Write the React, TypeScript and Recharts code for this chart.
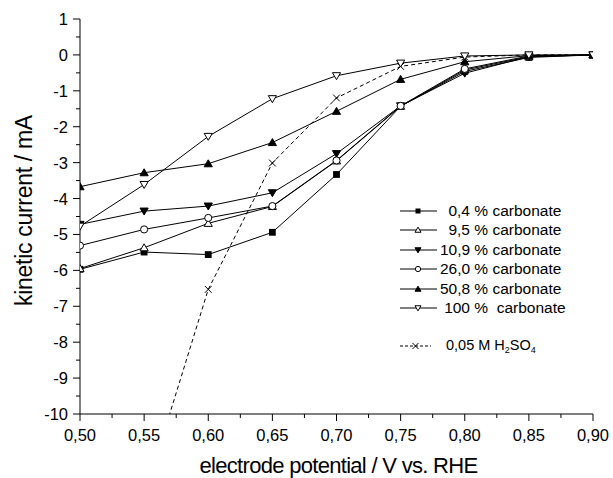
import { LineChart, Line, XAxis, YAxis, Legend, Label } from "recharts";

const FONT = "'Liberation Sans', Arial, sans-serif";

// electrode potential (V vs. RHE)
const POTENTIAL = [0.5, 0.55, 0.6, 0.65, 0.7, 0.75, 0.8, 0.85, 0.9];

// kinetic current (mA) per electrolyte
const CARB_04 = [-5.97, -5.49, -5.56, -4.94, -3.33, -1.43, -0.46, -0.07, 0];
const CARB_95 = [-5.95, -5.37, -4.69, -4.22, -2.95, -1.43, -0.42, -0.05, 0];
const CARB_109 = [-4.72, -4.35, -4.21, -3.84, -2.75, -1.42, -0.51, -0.05, 0];
const CARB_260 = [-5.31, -4.86, -4.54, -4.21, -2.94, -1.42, -0.39, -0.03, 0];
const CARB_508 = [-3.67, -3.28, -3.03, -2.44, -1.57, -0.68, -0.19, -0.02, 0];
const CARB_100 = [-4.77, -3.61, -2.27, -1.22, -0.58, -0.23, -0.03, 0, 0];
const H2SO4 = [null, -12.3, -6.53, -3.01, -1.2, -0.32, -0.06, 0, 0];

// major ticks get a label, the in-between ones are minor
const X_TICKS = [0.5, 0.525, 0.55, 0.575, 0.6, 0.625, 0.65, 0.675, 0.7, 0.725, 0.75, 0.775, 0.8, 0.825, 0.85, 0.875, 0.9];
const Y_TICKS = [-10, -9.5, -9, -8.5, -8, -7.5, -7, -6.5, -6, -5.5, -5, -4.5, -4, -3.5, -3, -2.5, -2, -1.5, -1, -0.5, 0, 0.5, 1];

const SERIES = [
  { key: "c04", num: "0,4", rest: " % carbonate", marker: "square", values: CARB_04 },
  { key: "c95", num: "9,5", rest: " % carbonate", marker: "triUpOpen", values: CARB_95 },
  { key: "c109", num: "10,9", rest: " % carbonate", marker: "triDown", values: CARB_109 },
  { key: "c260", num: "26,0", rest: " % carbonate", marker: "circleOpen", values: CARB_260 },
  { key: "c508", num: "50,8", rest: " % carbonate", marker: "triUp", values: CARB_508 },
  { key: "c100", num: "100", rest: " %  carbonate", marker: "triDownOpen", values: CARB_100 },
];

const data = POTENTIAL.map((x, i) => {
  const row: Record<string, number | null> = { x, h2so4: H2SO4[i] };
  SERIES.forEach((s) => {
    row[s.key] = s.values[i];
  });
  return row;
});

function Marker({ kind, cx, cy, s }: { kind: string; cx: number; cy: number; s: number }) {
  switch (kind) {
    case "square":
      return <rect x={cx - s} y={cy - s} width={2 * s} height={2 * s} fill="#000" />;
    case "triUp":
    case "triUpOpen":
      return (
        <polygon
          points={`${cx},${cy - s * 1.15} ${cx + s * 1.2},${cy + s * 0.9} ${cx - s * 1.2},${cy + s * 0.9}`}
          fill={kind === "triUp" ? "#000" : "#fff"}
          stroke="#000"
          strokeWidth={1}
        />
      );
    case "triDown":
    case "triDownOpen":
      return (
        <polygon
          points={`${cx},${cy + s * 1.15} ${cx + s * 1.2},${cy - s * 0.9} ${cx - s * 1.2},${cy - s * 0.9}`}
          fill={kind === "triDown" ? "#000" : "#fff"}
          stroke="#000"
          strokeWidth={1}
        />
      );
    case "circleOpen":
      return <circle cx={cx} cy={cy} r={s * 1.05} fill="#fff" stroke="#000" strokeWidth={1} />;
    case "cross":
      return (
        <path
          d={`M${cx - s},${cy - s}L${cx + s},${cy + s}M${cx - s},${cy + s}L${cx + s},${cy - s}`}
          stroke="#000"
          strokeWidth={1}
        />
      );
    default:
      return null;
  }
}

const renderDot = (kind: string) => (props: any) => {
  const { cx, cy, index, value } = props;
  if (cx == null || cy == null || value == null || Number.isNaN(cy)) return <g key={`${kind}-${index}`} />;
  return (
    <g key={`${kind}-${index}`}>
      <Marker kind={kind} cx={cx} cy={cy} s={3.4} />
    </g>
  );
};

const isMajor = (v: number, step: number) => Math.abs(v / step - Math.round(v / step)) < 1e-6;

// x tick: line drawn down from the axis, label only on the 0.05 steps
const XTick = (props: any) => {
  const { x, y, payload } = props;
  const major = isMajor(payload.value, 0.05);
  return (
    <g>
      <line x1={x} y1={y} x2={x} y2={y + (major ? 7 : 4)} stroke="#000" strokeWidth={1} />
      {major && (
        <text x={x} y={y + 27} textAnchor="middle" fontSize={16.5} fill="#000">
          {payload.value.toFixed(2).replace(".", ",")}
        </text>
      )}
    </g>
  );
};

const YTick = (props: any) => {
  const { x, y, payload } = props;
  const major = isMajor(payload.value, 1);
  return (
    <g>
      <line x1={x - (major ? 7 : 4)} y1={y} x2={x} y2={y} stroke="#000" strokeWidth={1} />
      {major && (
        <text x={x - 12} y={y + 6} textAnchor="end" fontSize={16.5} fill="#000">
          {String(payload.value)}
        </text>
      )}
    </g>
  );
};

function LegendRow({ marker, dashed, children }: { marker: string; dashed?: boolean; children: any }) {
  return (
    <div style={{ display: "flex", alignItems: "center", height: 19.5 }}>
      <svg width={40} height={14} style={{ display: "block" }}>
        <line x1={0} y1={7} x2={dashed ? 31 : 37} y2={7} stroke="#000" strokeWidth={1} strokeDasharray={dashed ? "3 2" : undefined} />
        <Marker kind={marker} cx={dashed ? 15.5 : 18} cy={7} s={dashed ? 3 : 2.5} />
      </svg>
      {children}
    </div>
  );
}

function LegendBox() {
  return (
    <div style={{ fontFamily: FONT, fontSize: 15.5, color: "#000", whiteSpace: "pre" }}>
      {SERIES.map((s) => (
        <LegendRow key={s.key} marker={s.marker}>
          <span style={{ display: "inline-block", width: 30, textAlign: "right" }}>{s.num}</span>
          <span>{s.rest}</span>
        </LegendRow>
      ))}
      <div style={{ height: 18 }} />
      <LegendRow marker="cross" dashed>
        <span style={{ marginLeft: 6, fontSize: 14.5 }}>
          0,05 M H<sub style={{ fontSize: 9, verticalAlign: -3 }}>2</sub>SO<sub style={{ fontSize: 9, verticalAlign: -3 }}>4</sub>
        </span>
      </LegendRow>
    </div>
  );
}

export default function App() {
  return (
    <div style={{ position: "absolute", left: 0, top: 0, width: 613, height: 478, background: "#fff" }}>
      <LineChart
        width={613}
        height={478}
        data={data}
        margin={{ top: 19, right: 20, bottom: 0, left: 0 }}
        style={{ fontFamily: FONT }}
      >
        <XAxis
          dataKey="x"
          type="number"
          domain={[0.5, 0.9]}
          ticks={X_TICKS}
          interval={0}
          allowDataOverflow
          height={64}
          tickSize={0}
          tickMargin={0}
          tickLine={false}
          tick={<XTick />}
          axisLine={{ stroke: "#000" }}
        >
          <Label
            content={({ viewBox }: any) => (
              <text
                x={viewBox.x + viewBox.width / 2 + 2}
                y={viewBox.y + 59}
                textAnchor="middle"
                fontSize={22}
                letterSpacing={-0.7}
                fill="#000"
              >
                electrode potential / V vs. RHE
              </text>
            )}
          />
        </XAxis>
        <YAxis
          type="number"
          domain={[-10, 1]}
          ticks={Y_TICKS}
          interval={0}
          allowDataOverflow
          width={80}
          tickSize={0}
          tickMargin={0}
          tickLine={false}
          tick={<YTick />}
          axisLine={{ stroke: "#000" }}
        >
          <Label
            content={({ viewBox }: any) => {
              const cx = viewBox.x + viewBox.width - 48.5;
              const cy = viewBox.y + viewBox.height / 2 - 6;
              return (
                <text
                  x={cx}
                  y={cy}
                  transform={`rotate(-90 ${cx} ${cy})`}
                  textAnchor="middle"
                  fontSize={23}
                  letterSpacing={-0.3}
                  fill="#000"
                >
                  kinetic current / mA
                </text>
              );
            }}
          />
        </YAxis>
        <Legend
          layout="vertical"
          align="center"
          verticalAlign="middle"
          content={() => <LegendBox />}
          wrapperStyle={{ left: 400, top: 201, width: 200, right: "auto", bottom: "auto" }}
        />
        <Line
          dataKey="h2so4"
          type="linear"
          stroke="#000"
          strokeWidth={1}
          strokeDasharray="4 3"
          dot={renderDot("cross")}
          activeDot={false}
          isAnimationActive={false}
        />
        {SERIES.map((s) => (
          <Line
            key={s.key}
            dataKey={s.key}
            type="linear"
            stroke="#000"
            strokeWidth={1}
            dot={renderDot(s.marker)}
            activeDot={false}
            isAnimationActive={false}
          />
        ))}
      </LineChart>
    </div>
  );
}
